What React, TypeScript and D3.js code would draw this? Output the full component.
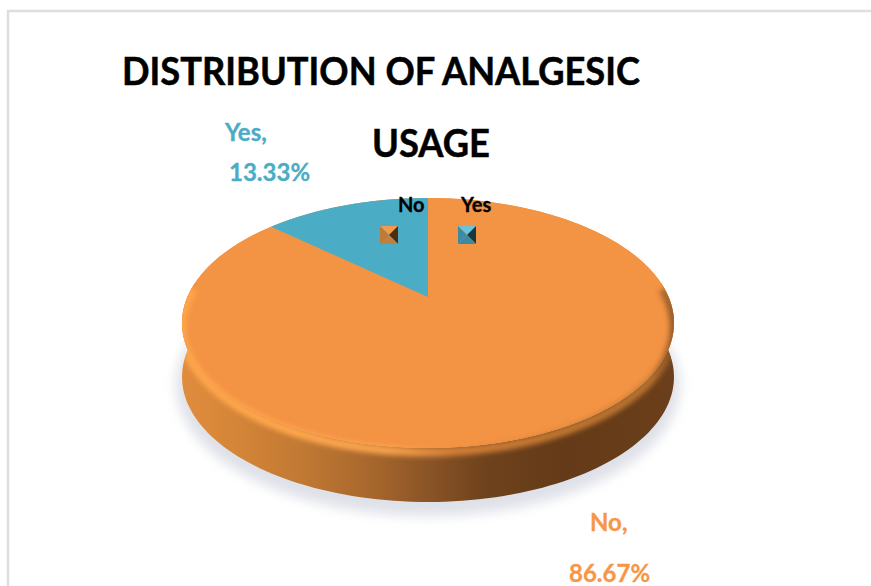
import React from "react";
import * as d3 from "d3";

const categories = ["No", "Yes"];
const values = [86.67, 13.33];
const valueLabels = ["86.67%", "13.33%"];
const titleLines = ["DISTRIBUTION OF ANALGESIC", "USAGE"];
const sliceColors = ["#F39344", "#4BACC6"];
const labelColors = ["#F79646", "#4BACC6"];

const W = 871, H = 586;
const cx = 428, apexY = 297, k = 240.6, persp = -0.208, ya = 57.8;
const depth = 54;

// projects a point of the unit circle onto the tilted disc
const project = (angle: number, r = 1): [number, number] => {
  const u = Math.sin(angle) * r;
  const v = -Math.cos(angle) * r;
  const d = 1 + persp * v;
  return [cx + (k * u) / d, (apexY + ya * v) / d];
};

const pie = d3.pie<number>().sort(null)(values);
const line = d3.line();
const sample = (a0: number, a1: number) =>
  d3.range(0, 121).map((i) => project(a0 + ((a1 - a0) * i) / 120));

const slicePath = (a0: number, a1: number) =>
  `M${cx},${apexY}L` + (line(sample(a0, a1)) as string).slice(1) + "Z";

const full = sample(0, Math.PI * 2);
const fullPath = (line(full) as string) + "Z";
const front = sample(Math.PI / 2 - 0.12, (Math.PI * 3) / 2 + 0.12);
const rimArc = sample(Math.PI / 2 - 0.1, (Math.PI * 3) / 2 + 0.1);
const sidePath =
  (line(front) as string) +
  "L" +
  (line(front.slice().reverse().map(([x, y]) => [x, y + depth] as [number, number])) as string).slice(1) +
  "Z";

const [xMinD, xMaxD] = d3.extent(full, (p) => p[0]) as [number, number];
const sideStops: [number, string][] = [
  [0, "#E08C3E"], [0.1, "#D68638"], [0.25, "#C07833"], [0.4, "#A4652C"],
  [0.5, "#8A5426"], [0.62, "#6E421C"], [0.78, "#643A18"], [1, "#6B3F1A"],
];
const rimStops: [number, string, number][] = [
  [0, "#FFA64C", 0.95], [0.2, "#FFA64C", 1], [0.42, "#FFA850", 0.9],
  [0.55, "#F09040", 0.75], [0.75, "#D88538", 0.8], [0.95, "#C47A34", 0.85], [1, "#8A5426", 0.9],
];

const fontFamily = "Lato, Carlito, 'Open Sans', sans-serif";

function Marker({ x, y, s, shades }: { x: number; y: number; s: number; shades: string[] }) {
  const m: [number, number] = [x + s / 2, y + s / 2];
  const c: [number, number][] = [[x, y], [x + s, y], [x + s, y + s], [x, y + s]];
  return (
    <g>
      {c.map((p, i) => (
        <path key={i} d={`M${p}L${c[(i + 1) % 4]}L${m}Z`} fill={shades[i]} />
      ))}
    </g>
  );
}

const markerShades = [
  ["#F59A4C", "#4A3010", "#C08040", "#C07A35"],
  ["#6BC4DC", "#123A44", "#3B8AA0", "#3C8AA3"],
];

const heavy = (color: string, w: number) => ({ stroke: color, strokeWidth: w, fill: color });

export default function App() {
  return (
    <svg width={W} height={H} style={{ position: "absolute", left: 0, top: 0, display: "block" }} fontFamily={fontFamily}>
      <defs>
        <linearGradient id="side" gradientUnits="userSpaceOnUse" x1={xMinD} x2={xMaxD} y1={0} y2={0}>
          {sideStops.map(([o, c]) => <stop key={o} offset={o} stopColor={c} />)}
        </linearGradient>
        <linearGradient id="rim" gradientUnits="userSpaceOnUse" x1={xMinD} x2={xMaxD} y1={0} y2={0}>
          {rimStops.map(([o, c, a]) => <stop key={o} offset={o} stopColor={c} stopOpacity={a} />)}
        </linearGradient>
        <filter id="shadow" x="-10%" y="-20%" width="120%" height="140%"><feGaussianBlur stdDeviation="6" /></filter>
        <filter id="blur" x="-10%" y="-20%" width="120%" height="140%"><feGaussianBlur stdDeviation="2.5" /></filter>
        <clipPath id="disc">
          <path d={fullPath} />
          <path d={sidePath} />
        </clipPath>
      </defs>

      <path d={`M8,586V11H871`} fill="none" stroke="#DEDEDE" strokeWidth={2.5} />

      <path d={fullPath} transform={`translate(0,${depth + 8})`} fill="#DFE1E8" stroke="#DFE1E8" strokeWidth={12} filter="url(#shadow)" />
      <path d={sidePath} fill="url(#side)" />
      <path d={fullPath} fill={sliceColors[0]} />

      {pie.map((s, i) => (
        <path key={categories[i]} d={slicePath(s.startAngle, s.endAngle)} fill={sliceColors[i]} />
      ))}

      <g clipPath="url(#disc)">
        <path d={line(rimArc) as string} transform="translate(0,4)" fill="none" stroke="url(#rim)" strokeWidth={9} filter="url(#blur)" />
      </g>

      <text x={122} y={85} fontSize={38} fontWeight={700} {...heavy("#000", 0.5)} textLength={518} lengthAdjust="spacingAndGlyphs">{titleLines[0]}</text>
      <text x={372} y={157} fontSize={38} fontWeight={700} {...heavy("#000", 0.5)} textLength={118} lengthAdjust="spacingAndGlyphs">{titleLines[1]}</text>

      {categories.map((c, i) => {
        const mx = d3.scaleOrdinal<string, number>().domain(categories).range([380, 458])(c);
        const tx = d3.scaleOrdinal<string, number>().domain(categories).range([398, 461])(c);
        return (
          <g key={c}>
            <Marker x={mx} y={226} s={18} shades={markerShades[i]} />
            <text x={tx} y={212} fontSize={20} fontWeight={700} {...heavy("#000", 0.3)}>{c}</text>
          </g>
        );
      })}

      <text x={225} y={141} fontSize={24} fontWeight={700} {...heavy(labelColors[1], 0.3)}>{categories[1]},</text>
      <text x={229} y={181} fontSize={24} fontWeight={700} {...heavy(labelColors[1], 0.3)}>{valueLabels[1]}</text>
      <text x={590} y={531} fontSize={24} fontWeight={700} {...heavy(labelColors[0], 0.3)}>{categories[0]},</text>
      <text x={569} y={582} fontSize={24} fontWeight={700} {...heavy(labelColors[0], 0.3)}>{valueLabels[0]}</text>
    </svg>
  );
}
